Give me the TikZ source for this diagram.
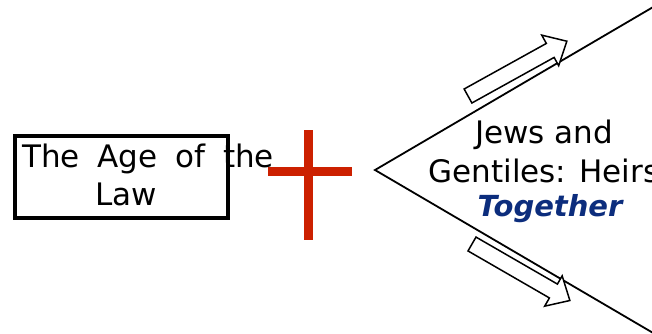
\documentclass[tikz,border=0pt]{standalone}
\usepackage{fontspec}
\setmainfont{DejaVu Sans}
\newfontfamily\widefont[WordSpace=1.8]{DejaVu Sans}
\definecolor{crossred}{RGB}{204,32,0}
\definecolor{navytext}{RGB}{12,45,125}
\begin{document}
\begin{tikzpicture}[x=0.5pt,y=-0.5pt,
  txt/.style={inner sep=0pt,anchor=base,font=\fontsize{15.5}{18}\selectfont},
  framebox/.style={draw=black,line width=2.2pt,rectangle,inner sep=0pt},
  crossbar/.style={draw=crossred,line width=4.5pt},
  edge/.style={draw=black,line width=0.9pt},
  blockarrow/.style={draw=black,line width=0.75pt,fill=white,line join=miter}]
\useasboundingbox (0,0) rectangle (652,333);
\clip (0,0) rectangle (652,333);

% the framed heading on the left
\node[framebox,minimum width=106.5pt,minimum height=41pt] (lawbox) at (121.5,177) {};
\node[txt,anchor=base west,font=\widefont\fontsize{15.5}{18}\selectfont] (agel1) at (22,167) {The Age of the};
\node[txt] (agel2) at (126,205) {Law};

% the chevron opening to the right
\coordinate (apex) at (375,170);
\coordinate (upperend) at (660,3);
\coordinate (lowerend) at (660,337);
\draw[edge] (upperend) -- (apex) -- (lowerend);

% block arrows along both arms
\begin{scope}[shift={(468,96)},rotate=29]
  \draw[blockarrow] (0,-8) -- (94,-8) -- (94,-17.5) -- (113,0) -- (94,17.5) -- (94,8) -- (0,8) -- cycle;
\end{scope}
\begin{scope}[shift={(472,244)},rotate=-30]
  \draw[blockarrow] (0,-8) -- (94,-8) -- (94,-17.5) -- (113,0) -- (94,17.5) -- (94,8) -- (0,8) -- cycle;
\end{scope}

% the text inside the chevron
\node[txt] (jews) at (544,143) {Jews and};
\node[txt] (gentiles) at (544,182) {Gentiles: Heirs};
\node[txt,text=navytext,font=\fontsize{14.5}{17}\selectfont\bfseries\itshape] (together) at (550,216) {Together};

% the cross
\coordinate (crosstop) at (308.8,130);
\coordinate (crossbottom) at (308.8,240);
\coordinate (crossleft) at (268,171.2);
\coordinate (crossright) at (352,171.2);
\draw[crossbar] (crosstop) -- (crossbottom);
\draw[crossbar] (crossleft) -- (crossright);
\end{tikzpicture}
\end{document}
